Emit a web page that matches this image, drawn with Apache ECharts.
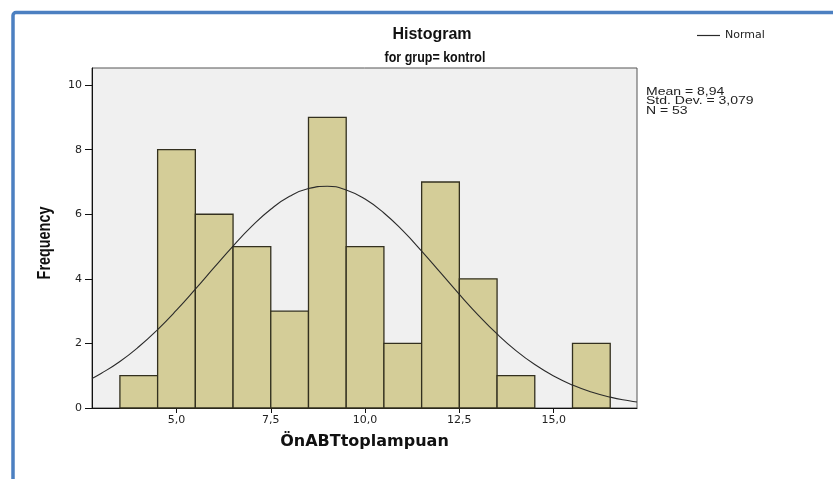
<!DOCTYPE html>
<html><head><meta charset="utf-8">
<script src="https://cdn.jsdelivr.net/npm/echarts@6/dist/echarts.min.js"></script>
<style>html,body{margin:0;padding:0;background:#fff}#c{width:833px;height:479px}</style>
</head><body><div id="c"></div>
<script>
// Histogram bins (centre of each bin, width 1) and counts
const binCenters = [4, 5, 6, 7, 8, 9, 10, 11, 12, 13, 14, 15, 16];
const frequencies = [1, 8, 6, 5, 3, 9, 5, 2, 7, 4, 1, 0, 2];
// Normal curve
const curveX = [2.76, 3, 3.5, 4, 4.5, 5, 5.5, 6, 6.5, 7, 7.5, 8, 8.5, 9, 9.5, 10, 10.5, 11, 11.5, 12, 12.5, 13, 13.5, 14, 14.5, 15, 15.5, 16, 16.5, 17, 17.21];
const curveY = [0.916, 1.068, 1.441, 1.896, 2.428, 3.028, 3.679, 4.353, 5.016, 5.631, 6.156, 6.555, 6.797, 6.866, 6.754, 6.472, 6.039, 5.490, 4.860, 4.190, 3.519, 2.879, 2.293, 1.779, 1.345, 0.990, 0.709, 0.496, 0.337, 0.223, 0.186];
const xTickValues = [5, 7.5, 10, 12.5, 15];
const yTickValues = [0, 2, 4, 6, 8, 10];
const statsLines = ['Mean = 8,94', 'Std. Dev. = 3,079', 'N = 53'];

const chart = echarts.init(document.getElementById('c'), null, {renderer: 'canvas'});
const histData = binCenters.map((c, i) => [c, frequencies[i]]);
const curveData = curveX.map((x, i) => [x, curveY[i]]);
const sans = "'Liberation Sans', Arial, sans-serif";
const dejavu = "'DejaVu Sans', sans-serif";

chart.setOption({
  animation: false,
  backgroundColor: '#ffffff',
  legend: {
    data: [{name: 'Normal', icon: 'rect'}],
    left: 692, top: 25, itemWidth: 23, itemHeight: 1.2, itemGap: 4,
    textStyle: {fontFamily: dejavu, fontSize: 11, color: '#222'}
  },
  grid: {left: 92, right: 196, top: 68, bottom: 71, show: true,
         backgroundColor: '#f0f0f0', borderColor: '#555', borderWidth: 1},
  xAxis: {
    type: 'value', min: 2.76, max: 17.21,
    name: 'ÖnABTtoplampuan', nameLocation: 'middle', nameGap: 26,
    nameTextStyle: {fontFamily: dejavu, fontSize: 16, fontWeight: 'bold', color: '#111'},
    axisLine: {lineStyle: {color: '#111', width: 1}},
    axisTick: {show: true, length: 5, customValues: xTickValues, lineStyle: {color: '#111'}},
    axisLabel: {customValues: xTickValues, margin: 7, fontFamily: dejavu, fontSize: 11, color: '#222',
                formatter: v => v.toFixed(1).replace('.', ',')},
    splitLine: {show: false}
  },
  yAxis: {
    type: 'value', min: 0, max: 10.53,
    axisLine: {show: true, lineStyle: {color: '#111', width: 1}},
    axisTick: {show: true, length: 7, customValues: yTickValues, lineStyle: {color: '#111'}},
    axisLabel: {customValues: yTickValues, margin: 10, fontFamily: dejavu, fontSize: 11, color: '#222'},
    splitLine: {show: false}
  },
  graphic: [
    {type: 'rect', silent: true, z: 100,
     shape: {x: 13, y: 12.5, width: 1000, height: 700, r: 3},
     style: {fill: 'none', stroke: '#4c80c1', lineWidth: 3.5}},
    {type: 'text', x: 432, y: 35, silent: true,
     style: {text: 'Histogram', align: 'center', verticalAlign: 'middle',
             font: 'bold 16px ' + sans, fill: '#111'}},
    {type: 'text', x: 435, y: 58, scaleX: 0.86, silent: true,
     style: {text: 'for grup= kontrol', align: 'center', verticalAlign: 'middle',
             font: 'bold 14.5px ' + sans, fill: '#111'}},
    {type: 'text', x: 45, y: 243, rotation: Math.PI / 2, scaleX: 0.8, silent: true,
     style: {text: 'Frequency', align: 'center', verticalAlign: 'middle',
             font: 'bold 18px ' + sans, fill: '#111'}},
    {type: 'text', x: 646, y: 87, scaleX: 1.4, silent: true,
     style: {text: statsLines.join('\n'), font: '10px ' + sans, lineHeight: 9.5, fill: '#222'}}
  ],
  series: [
    {
      name: 'Histogram', type: 'custom', z: 2,
      data: histData,
      encode: {x: 0, y: 1},
      renderItem: function (params, api) {
        const x = api.value(0), f = api.value(1);
        if (!f) return null;
        const p0 = api.coord([x - 0.5, f]);
        const p1 = api.coord([x + 0.5, 0]);
        return {type: 'rect',
          shape: {x: p0[0], y: p0[1], width: p1[0] - p0[0], height: p1[1] - p0[1]},
          style: {fill: '#d4cd98', stroke: '#33301f', lineWidth: 1.3}};
      }
    },
    {
      name: 'Normal', type: 'line', z: 5, data: curveData, smooth: true,
      showSymbol: false, symbol: 'none', silent: true,
      lineStyle: {color: '#2a2a2a', width: 1.1}, itemStyle: {color: '#2a2a2a'}
    }
  ]
});
</script>
</body></html>
